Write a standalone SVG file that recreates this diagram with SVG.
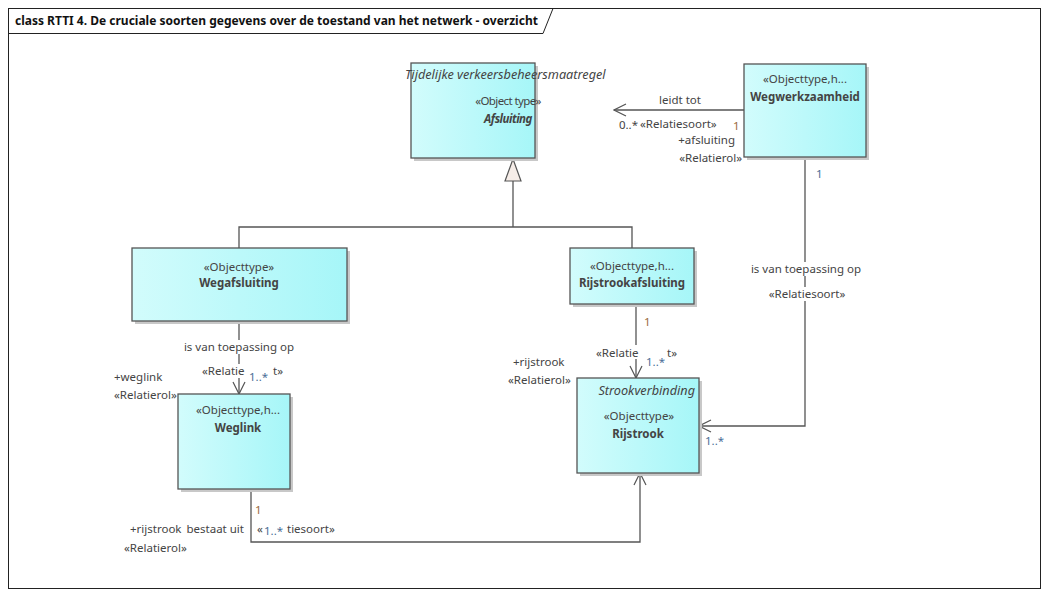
<svg xmlns="http://www.w3.org/2000/svg" width="1049" height="596" viewBox="0 0 1049 596">
<defs>
<linearGradient id="g" x1="0" y1="0" x2="1" y2="0">
<stop offset="0" stop-color="#d2fcfc"/>
<stop offset="1" stop-color="#a6f6f8"/>
</linearGradient>
<marker id="open" markerWidth="14" markerHeight="14" refX="13" refY="7" orient="auto" markerUnits="userSpaceOnUse">
<path d="M1,1 L13,7 L1,13" fill="none" stroke="#555" stroke-width="1.2"/>
</marker>
<style>
text{font-family:"Noto Sans","Open Sans","Liberation Sans",sans-serif;font-size:11.5px;fill:#444}
.b{font-weight:bold}
.i{font-style:italic}
.ip{font-size:12.7px}
.m{text-anchor:middle}
.e{text-anchor:end}
.box{fill:url(#g);stroke:#555;stroke-width:1.3}
.sh{fill:#c8c8c8}
.ln{fill:none;stroke:#555;stroke-width:1.3}
.src{fill:#9a6a3a}
.tgt{fill:#4a6e96}
.bg{fill:#fff}
</style>
</defs>
<rect x="0" y="0" width="1049" height="596" fill="#fff"/>
<g id="frame">
<rect x="8.5" y="8.5" width="1032" height="580" fill="none" stroke="#222" stroke-width="1"/>
<path d="M8.5,33.5 H543 L553,8.5" fill="none" stroke="#222" stroke-width="1"/>
<text x="15" y="25" class="b" style="font-size:12px;fill:#111">class RTTI 4. De cruciale soorten gegevens over de toestand van het netwerk - overzicht</text>
</g>
<g id="connectors">
<path class="ln" d="M239,248 V227 H632 V248"/>
<path class="ln" d="M513,227 V181"/>
<path d="M505,181 L521,181 L513,159 Z" fill="#f6ede8" stroke="#555" stroke-width="1.2"/>
<path class="ln" d="M744,110 H614" marker-end="url(#open)"/>
<path class="ln" d="M805,157 V426 H699" marker-end="url(#open)"/>
<path class="ln" d="M239,321 V394" marker-end="url(#open)"/>
<path class="ln" d="M636,304 V378" marker-end="url(#open)"/>
<path class="ln" d="M251,489 V542 H640 V473" marker-end="url(#open)"/>
</g>
<g id="labels">
<text x="680" y="104" class="m">leidt tot</text>
<text x="638" y="129" class="e">0..*</text>
<text x="640" y="128">«Relatiesoort»</text>
<text x="733" y="130" class="src">1</text>
<text x="735" y="144" class="e">+afsluiting</text>
<rect x="671" y="151" width="72" height="15" class="bg"/>
<text x="742" y="162" class="e">«Relatierol»</text>
<text x="816" y="178" class="tgt">1</text>
<rect x="750" y="262" width="112" height="14" class="bg"/>
<text x="806" y="273" class="m">is van toepassing op</text>
<rect x="766" y="287" width="82" height="14" class="bg"/>
<text x="807" y="298" class="m">«Relatiesoort»</text>
<text x="705" y="445" class="tgt">1..*</text>
<rect x="183" y="340" width="112" height="14" class="bg"/>
<text x="239" y="351" class="m">is van toepassing op</text>
<rect x="200" y="364" width="84" height="14" class="bg"/>
<text x="202" y="375">«Relatie</text>
<text x="249" y="381" class="tgt">1..*</text>
<text x="273" y="375">t»</text>
<text x="114" y="381">+weglink</text>
<rect x="113" y="388" width="70" height="15" class="bg"/>
<text x="114" y="399">«Relatierol»</text>
<text x="644" y="326" class="src">1</text>
<rect x="595" y="345" width="84" height="14" class="bg"/>
<text x="596" y="357">«Relatie</text>
<text x="646" y="366" class="tgt">1..*</text>
<text x="667" y="357">t»</text>
<text x="513" y="366">+rijstrook</text>
<rect x="507" y="373" width="70" height="15" class="bg"/>
<text x="508" y="384">«Relatierol»</text>
<text x="255" y="514" class="src">1</text>
<rect x="183" y="522" width="62" height="14" class="bg"/>
<text x="244" y="533" class="e">bestaat uit</text>
<rect x="128" y="522" width="56" height="14" class="bg"/>
<text x="130" y="533">+rijstrook</text>
<text x="124" y="552">«Relatierol»</text>
<text x="257" y="533">«</text>
<text x="264" y="535" class="tgt">1..*</text>
<text x="287" y="533">tiesoort»</text>
</g>
<g id="node-afsluiting">
<rect x="414" y="66" width="124" height="95" class="sh"/>
<rect x="411" y="63" width="124" height="95" class="box"/>
<text x="405" y="79" class="i ip">Tijdelijke verkeersbeheersmaatregel</text>
<text x="508" y="105" class="m" style="letter-spacing:-0.6px">«Object type»</text>
<text x="508" y="123" class="m b i" style="letter-spacing:-0.5px">Afsluiting</text>
</g>
<g id="node-wegwerkzaamheid">
<rect x="747" y="67" width="122" height="93" class="sh"/>
<rect x="744" y="64" width="122" height="93" class="box"/>
<text x="805" y="83" class="m">«Objecttype,h...</text>
<text x="805" y="101" class="m b">Wegwerkzaamheid</text>
</g>
<g id="node-wegafsluiting">
<rect x="135" y="251" width="215" height="73" class="sh"/>
<rect x="132" y="248" width="215" height="73" class="box"/>
<text x="239" y="271" class="m">«Objecttype»</text>
<text x="239" y="287" class="m b">Wegafsluiting</text>
</g>
<g id="node-rijstrookafsluiting">
<rect x="573" y="251" width="124" height="56" class="sh"/>
<rect x="570" y="248" width="124" height="56" class="box"/>
<text x="632" y="270" class="m">«Objecttype,h...</text>
<text x="632" y="287" class="m b">Rijstrookafsluiting</text>
</g>
<g id="node-weglink">
<rect x="181" y="397" width="112" height="95" class="sh"/>
<rect x="178" y="394" width="112" height="95" class="box"/>
<text x="238" y="414" class="m">«Objecttype,h...</text>
<text x="238" y="432" class="m b">Weglink</text>
</g>
<g id="node-rijstrook">
<rect x="580" y="381" width="122" height="95" class="sh"/>
<rect x="577" y="378" width="122" height="95" class="box"/>
<text x="695" y="395" class="e i ip">Strookverbinding</text>
<text x="639" y="420" class="m">«Objecttype»</text>
<text x="638" y="438" class="m b">Rijstrook</text>
</g>
</svg>
